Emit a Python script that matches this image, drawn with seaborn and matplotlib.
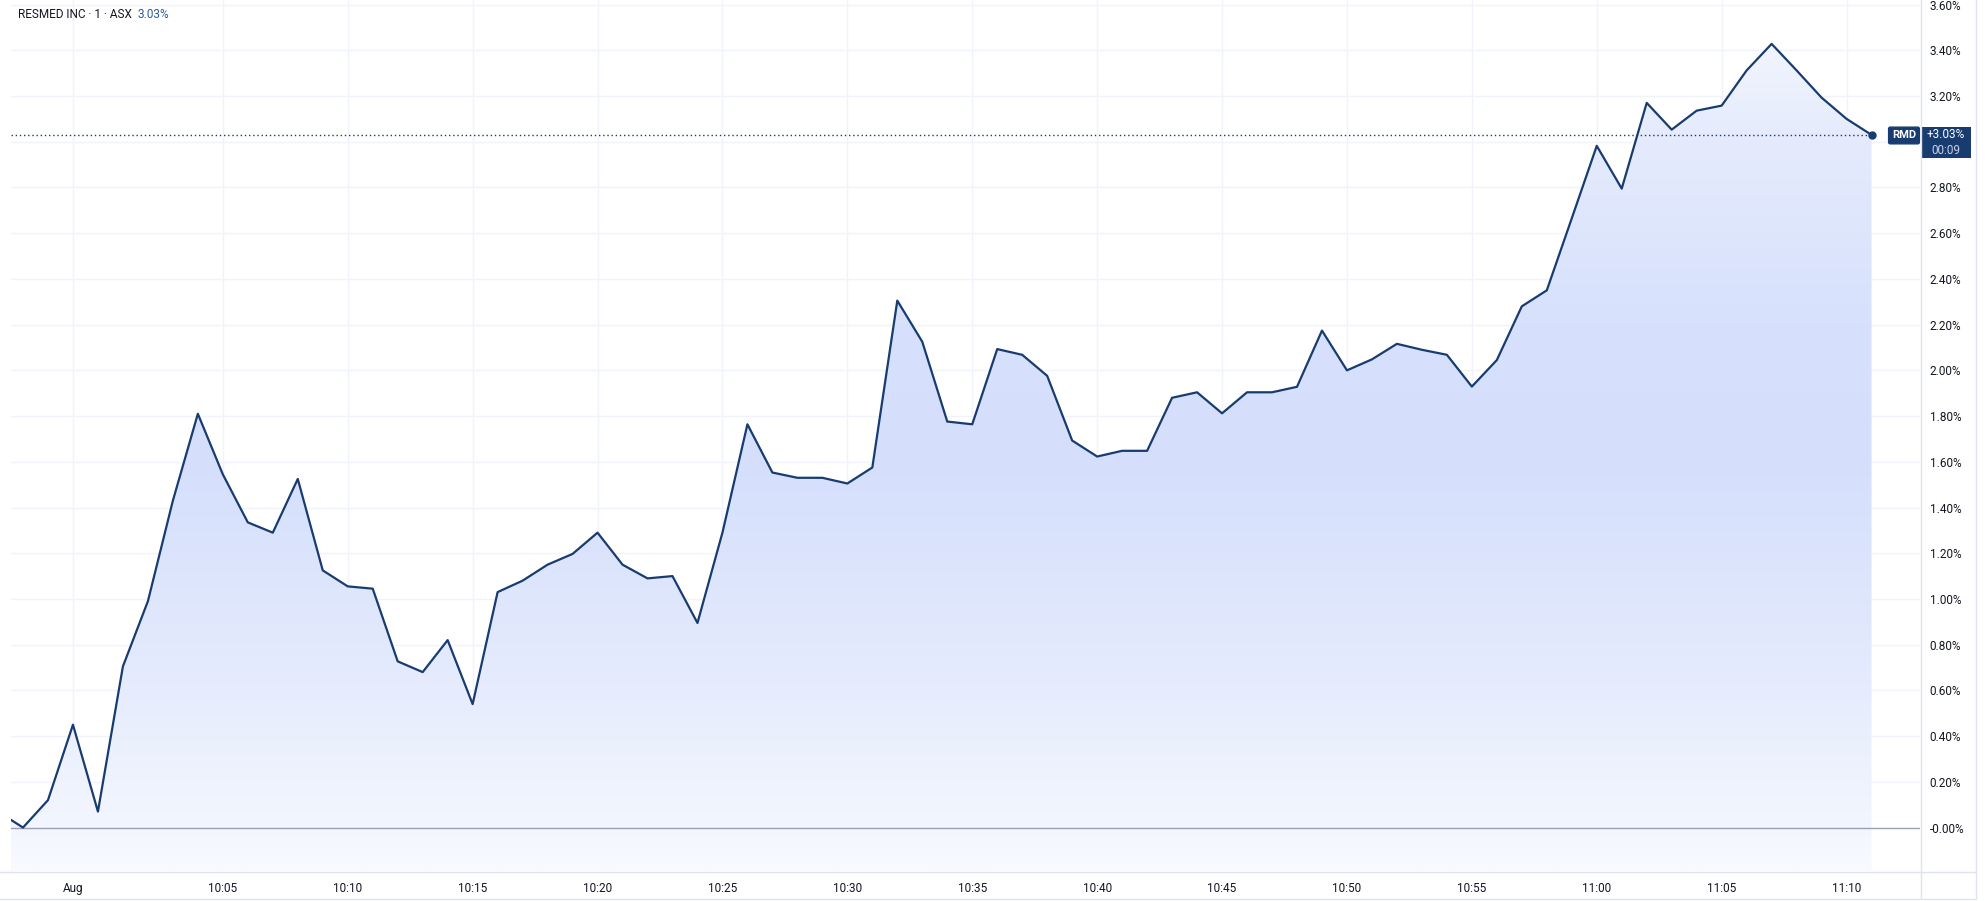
import numpy as np
import seaborn as sns
import matplotlib.pyplot as plt
from matplotlib.colors import LinearSegmentedColormap
import pandas as pd

# minute bars, % change vs previous close (index 9 = 10:05, index 75 = 11:11)
minute = list(range(76))
pct = [0.07, 0.00, 0.12, 0.45, 0.07, 0.705, 0.99, 1.43, 1.81, 1.545,
       1.335, 1.29, 1.525, 1.125, 1.055, 1.045, 0.727, 0.68, 0.82, 0.54,
       1.03, 1.08, 1.15, 1.197, 1.29, 1.15, 1.09, 1.10, 0.895, 1.29,
       1.764, 1.553, 1.53, 1.53, 1.505, 1.575, 2.305, 2.125, 1.776, 1.764,
       2.093, 2.068, 1.976, 1.693, 1.623, 1.648, 1.648, 1.88, 1.904, 1.812,
       1.904, 1.904, 1.928, 2.174, 2.00, 2.048, 2.116, 2.09, 2.068, 1.929,
       2.045, 2.28, 2.35, 2.665, 2.982, 2.795, 3.17, 3.053, 3.136, 3.158,
       3.312, 3.428, 3.312, 3.193, 3.10, 3.03]

xtick_pos = [3, 9, 14, 19, 24, 29, 34, 39, 44, 49, 54, 59, 64, 69, 74]
xtick_labels = ['Aug', '10:05', '10:10', '10:15', '10:20', '10:25', '10:30', '10:35',
                '10:40', '10:45', '10:50', '10:55', '11:00', '11:05', '11:10']
ytick_vals = [0.0, 0.2, 0.4, 0.6, 0.8, 1.0, 1.2, 1.4, 1.6, 1.8, 2.0, 2.2, 2.4,
              2.6, 2.8, 3.0, 3.2, 3.4, 3.6]
# 3.00% sits under the last-value box, so it is not shown
ytick_labels = ['-0.00%'] + ['' if abs(v - 3.0) < 1e-9 else '%.2f%%' % v
                             for v in ytick_vals[1:]]

last_val = pct[-1]
navy = '#183c6f'
text_col = '#131722'
grid_col = '#f0f3fa'
border_col = '#e0e3eb'

sns.set_style('white')
plt.rcParams['font.family'] = ['Roboto', 'DejaVu Sans']

df = pd.DataFrame({'minute': minute, 'pct': pct})

W, H = 1986, 901
fig = plt.figure(figsize=(W / 100, H / 100), dpi=100)
ax = fig.add_axes([11 / W, 1 - 871 / H, (1920 - 11) / W, 871 / H])

xlim = (0.52, 76.94)
ylim = (-0.190, 3.620)
ax.set_xlim(*xlim)
ax.set_ylim(*ylim)

# gridlines
for v in ytick_vals[1:]:
    ax.axhline(v, color=grid_col, lw=1, zorder=0)
for p in xtick_pos:
    ax.axvline(p, color=grid_col, lw=1, zorder=0)

# gradient fill under the line
poly = ax.fill_between(df['minute'], df['pct'], ylim[0], color='none', lw=0)
cmap = LinearSegmentedColormap.from_list('area', [
    (0.00, '#f8faff'),
    (0.05, '#f3f6fe'),
    (0.26, '#e2e9fd'),
    (0.47, '#d5dffc'),
    (0.63, '#d7e1fc'),
    (0.84, '#e5ebfd'),
    (0.955, '#f2f5fe'),
    (1.00, '#f8faff')])
grad = np.linspace(0, 1, 400).reshape(-1, 1)
im = ax.imshow(grad, cmap=cmap, aspect='auto', origin='lower',
               extent=[xlim[0], xlim[1], ylim[0], ylim[1]], zorder=1)
im.set_clip_path(poly.get_paths()[0], transform=ax.transData)

# zero line
ax.axhline(0, color='#9ba1b5', lw=1, zorder=2)

# price line
sns.lineplot(data=df, x='minute', y='pct', ax=ax, color=navy, lw=1.6, zorder=3)
ax.plot([xlim[0], minute[-1]], [last_val, last_val], color=navy, lw=1,
        ls=(0, (1, 2)), zorder=3)
ax.plot(minute[-1], last_val, 'o', color=navy, ms=5, zorder=4)

ax.set_xlabel('')
ax.set_ylabel('')
ax.set_xticks(xtick_pos)
ax.set_xticklabels(xtick_labels)
ax.set_yticks(ytick_vals)
ax.set_yticklabels(ytick_labels)
ax.yaxis.tick_right()
ax.tick_params(axis='both', length=0, labelsize=8.5, labelcolor=text_col)
ax.tick_params(axis='x', pad=8)
ax.tick_params(axis='y', pad=7)
for s in ax.spines.values():
    s.set_visible(False)

# panel borders
fig.add_artist(plt.Line2D([0, 1975 / W], [1 - 872 / H] * 2, color=border_col, lw=1))
fig.add_artist(plt.Line2D([0, 1975 / W], [1 - 899 / H] * 2, color=border_col, lw=1))
fig.add_artist(plt.Line2D([1920.5 / W] * 2, [1 - 899 / H, 1], color=border_col, lw=1))
fig.add_artist(plt.Line2D([1975.5 / W] * 2, [1 - 899 / H, 1], color=border_col, lw=1))

# symbol label and last value box
ax.annotate('RMD', xy=(1904 / W, 1 - 135.5 / H), xycoords='figure fraction',
            ha='center', va='center', color='white', fontsize=8, fontweight='bold',
            bbox=dict(boxstyle='round,pad=0.3,rounding_size=0.15', fc=navy, ec=navy))
fig.patches.append(plt.Rectangle((1921 / W, 1 - 158 / H), 50 / W, 31 / H,
                                 transform=fig.transFigure, fc=navy, ec='none'))
fig.text(1946 / W, 1 - 134 / H, '+3.03%', ha='center', va='center',
         color='white', fontsize=8.5)
fig.text(1946 / W, 1 - 150.5 / H, '00:09', ha='center', va='center',
         color='#c9d2e3', fontsize=8.5)

# header
fig.text(18 / W, 1 - 15 / H, 'RESMED INC · 1 · ASX', ha='left', va='center',
         color=text_col, fontsize=8.5)
fig.text(137 / W, 1 - 15 / H, '3.03%', ha='left', va='center',
         color='#2a5a9c', fontsize=8.5)

fig.savefig('out.png', dpi=100, facecolor='white')
